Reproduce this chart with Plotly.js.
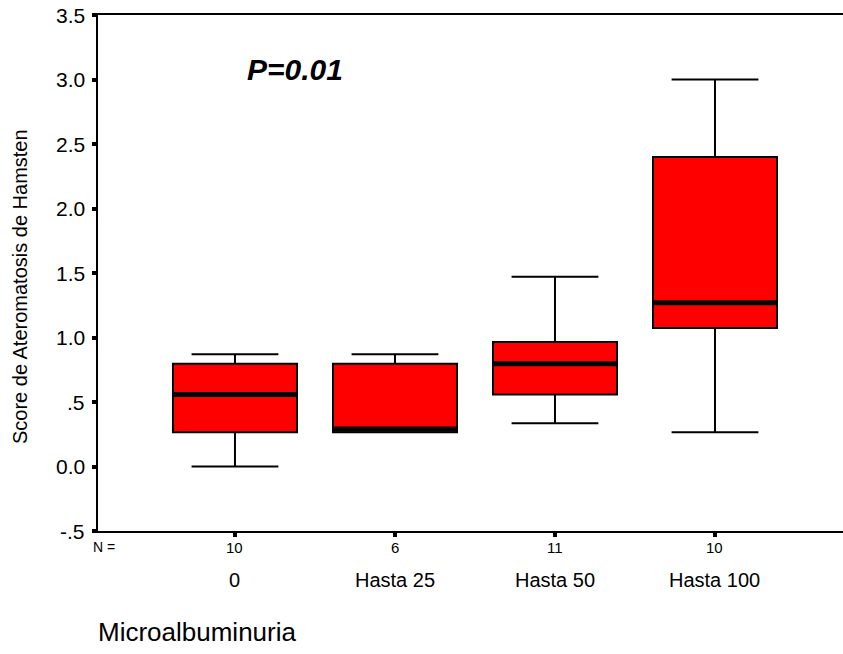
<!DOCTYPE html>
<html><head><meta charset="utf-8">
<script src="https://cdn.plot.ly/plotly-3.0.1.min.js"></script>
<style>html,body{margin:0;padding:0;background:#fff}</style>
</head><body>
<div id="chart" style="width:843px;height:654px"></div>
<script>
const categories = ["0", "Hasta 25", "Hasta 50", "Hasta 100"];
const nCounts = ["10", "6", "11", "10"];
const lowerFence = [0.00, 0.266, 0.336, 0.266];
const q1 = [0.266, 0.266, 0.559, 1.074];
const median = [0.559, 0.29, 0.797, 1.27];
const q3 = [0.797, 0.797, 0.965, 2.40];
const upperFence = [0.87, 0.87, 1.47, 3.00];
const yTickVals = [-0.5, 0, 0.5, 1, 1.5, 2, 2.5, 3, 3.5];
const yTickText = ["-.5", "0.0", ".5", "1.0", "1.5", "2.0", "2.5", "3.0", "3.5"];

const pos = categories.map((c, i) => i);
const boxW = 0.775;

const medX = [], medY = [];
pos.forEach((p, i) => { medX.push(p - boxW/2 + 0.006, p + boxW/2 - 0.006, null); medY.push(median[i], median[i], null); });

const traces = [
  {type: 'box', x: pos, q1: q1, median: median, q3: q3, lowerfence: lowerFence, upperfence: upperFence,
   width: boxW, whiskerwidth: 0.7, fillcolor: '#ff0000', line: {color: '#000', width: 2},
   hoverinfo: 'skip', showlegend: false},
  {type: 'scatter', mode: 'lines', x: medX, y: medY, line: {color: '#000', width: 5},
   hoverinfo: 'skip', showlegend: false}
];

const FONT = 'Liberation Sans, Arial';
const annotations = [];
categories.forEach((c, i) => annotations.push({
  x: pos[i], y: 0, xref: 'x', yref: 'paper', yshift: -49, yanchor: 'middle', xanchor: 'center',
  text: c, showarrow: false, font: {family: FONT, size: 20, color: '#000'}
}));
nCounts.forEach((n, i) => annotations.push({
  x: pos[i], y: 0, xref: 'x', yref: 'paper', yshift: -16, yanchor: 'middle', xanchor: 'center',
  text: n, showarrow: false, font: {family: FONT, size: 15, color: '#000'}
}));
yTickVals.forEach((v, i) => annotations.push({
  x: 0, y: v, xref: 'paper', yref: 'y', xshift: -11, xanchor: 'right', yanchor: 'middle',
  text: yTickText[i], showarrow: false, font: {family: FONT, size: 21, color: '#000'}
}));
annotations.push({x: 0, y: 0.5, xref: 'paper', yref: 'paper', xshift: -78, yshift: -14, xanchor: 'center', yanchor: 'middle',
  textangle: -90, text: 'Score de Ateromatosis de Hamsten', showarrow: false, font: {family: FONT, size: 20, color: '#000'}});
annotations.push({x: 0.008, y: 0, xref: 'paper', yref: 'paper', yshift: -16, xanchor: 'center', yanchor: 'middle',
  text: 'N =', showarrow: false, font: {family: FONT, size: 14, color: '#000'}});
annotations.push({x: 0, y: 0, xref: 'paper', yref: 'paper', xshift: -2, yshift: -101, xanchor: 'left', yanchor: 'middle',
  text: 'Microalbuminuria', showarrow: false, font: {family: FONT, size: 26, color: '#000'}});
annotations.push({x: 0.375, y: 3.08, xref: 'x', yref: 'y', xanchor: 'center', yanchor: 'middle',
  text: '<b><i>P=0.01</i></b>', showarrow: false, font: {family: FONT, size: 30, color: '#000'}});

const layout = {
  width: 843, height: 654,
  margin: {l: 98, r: 0, t: 15, b: 123},
  paper_bgcolor: '#fff', plot_bgcolor: '#fff',
  font: {family: FONT, color: '#000', size: 18},
  xaxis: {range: [-0.856, 3.8], tickmode: 'array', tickvals: pos, showticklabels: false, ticks: 'outside', ticklen: 4, tickwidth: 4,
    tickcolor: '#000', showline: true, linewidth: 2, linecolor: '#000', mirror: true, showgrid: false, zeroline: false},
  yaxis: {range: [-0.5, 3.5], tickmode: 'array', tickvals: yTickVals, showticklabels: false, ticks: 'outside', ticklen: 4, tickwidth: 4,
    tickcolor: '#000', showline: true, linewidth: 2, linecolor: '#000', showgrid: false, zeroline: false},
  annotations: annotations,
  showlegend: false
};

Plotly.newPlot('chart', traces, layout, {displayModeBar: false, staticPlot: true});
</script>
</body></html>
